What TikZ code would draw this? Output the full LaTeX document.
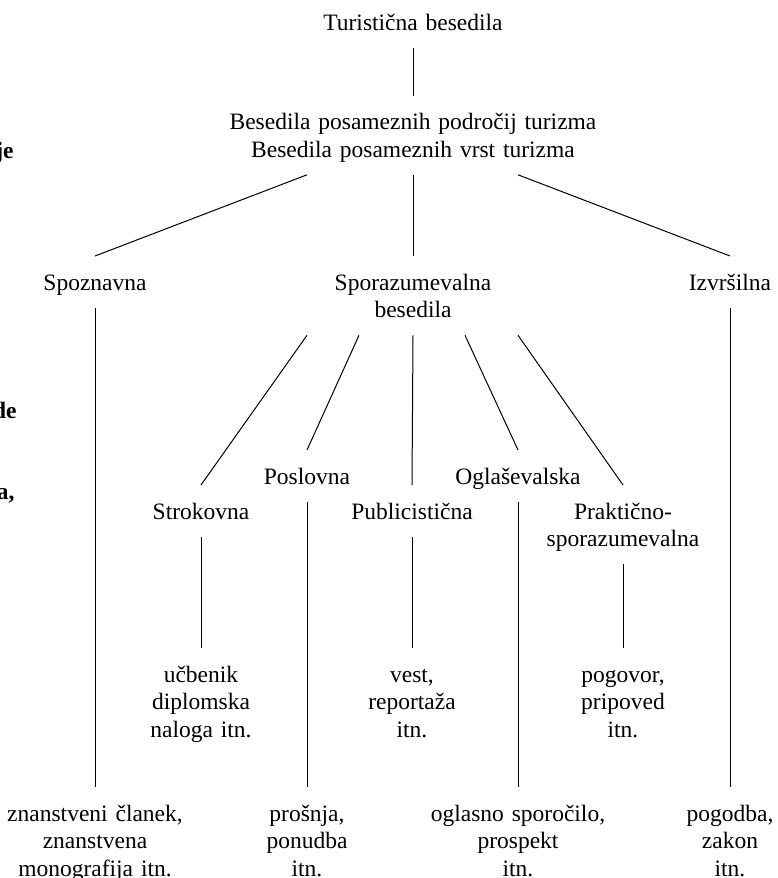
\documentclass[tikz,border=0pt]{standalone}
\usepackage{fontspec}
\setmainfont{Liberation Serif}
\usetikzlibrary{calc}

\begin{document}
\begin{tikzpicture}[
      x=0.5pt,y=-0.5pt,
      txt/.style={anchor=north,inner sep=0pt,text width=200pt,align=center,
        font=\fontsize{11.75}{13.75}\selectfont,
        execute at begin node={\rule{0pt}{17pt}},
        execute at end node={\rule[-8.5pt]{0pt}{8.5pt}}},
      frag/.style={anchor=base east,inner sep=0pt,
        font=\fontsize{11.75}{13.75}\selectfont\bfseries},
      lnk/.style={line width=0.5pt}
    ]
      \useasboundingbox (0,0) rectangle (777,878);

      \node[txt](tb) at (413,-4){Turistična besedila};
      \node[txt](bp) at (413,95.5){Besedila posameznih področij turizma\\
        Besedila posameznih vrst turizma};

      \node[txt](spo) at (95,256){Spoznavna};
      \node[txt](spr) at (413,256){Sporazumevalna\\besedila};
      \node[txt](izv) at (730,256){Izvršilna};

      \node[txt](pos) at (307,450){Poslovna};
      \node[txt](ogl) at (518,450){Oglaševalska};
      \node[txt](str) at (201,485){Strokovna};
      \node[txt](pub) at (412,485){Publicistična};
      \node[txt](pra) at (623,485){Praktično-\\sporazumevalna};

      \node[txt](ucb) at (201,648){učbenik\\diplomska\\naloga itn.};
      \node[txt](ves) at (412,648){vest,\\reportaža\\itn.};
      \node[txt](pgv) at (623,648){pogovor,\\pripoved\\itn.};

      \node[txt](zna) at (95,787){znanstveni članek,\\znanstvena\\monografija itn.};
      \node[txt](pro) at (307,787){prošnja,\\ponudba\\itn.};
      \node[txt](ogs) at (518,787){oglasno sporočilo,\\prospekt\\itn.};
      \node[txt](pgd) at (730,787){pogodba,\\zakon\\itn.};

      \node[frag](fa) at (14,158){je};
      \node[frag](fb) at (17,418){de};
      \node[frag](fc) at (15,499){a,};

      \draw[lnk](tb.south)--(bp.north);
      \draw[lnk]($(bp.south)+(-106,0)$)--(spo.north);
      \draw[lnk](bp.south)--(spr.north);
      \draw[lnk]($(bp.south)+(105,0)$)--(izv.north);

      \draw[lnk]($(spr.south)+(-106,0)$)--(str.north);
      \draw[lnk]($(spr.south)+(-54,0)$)--(pos.north);
      \draw[lnk](spr.south)--(pub.north);
      \draw[lnk]($(spr.south)+(52,0)$)--(ogl.north);
      \draw[lnk]($(spr.south)+(105,0)$)--(pra.north);

      \draw[lnk](spo.south)--(zna.north);
      \draw[lnk](izv.south)--(pgd.north);
      \draw[lnk](pos.south)--(pro.north);
      \draw[lnk](ogl.south)--(ogs.north);
      \draw[lnk](str.south)--(ucb.north);
      \draw[lnk](pub.south)--(ves.north);
      \draw[lnk](pra.south)--(pgv.north);
    \end{tikzpicture}
\end{document}
